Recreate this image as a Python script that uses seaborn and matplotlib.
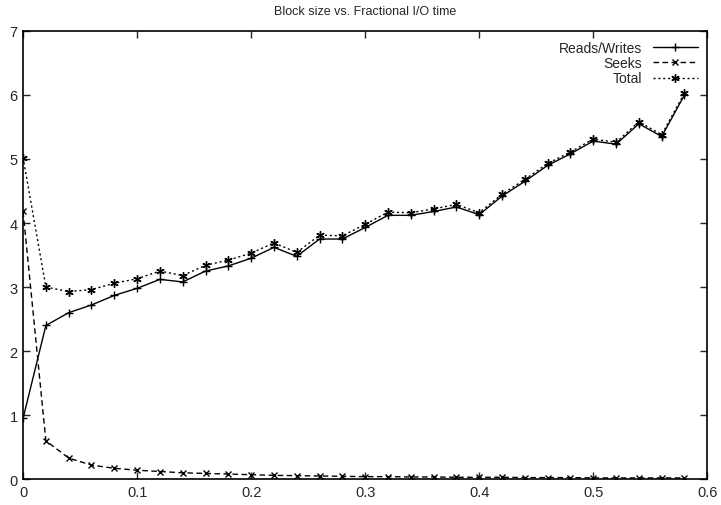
import matplotlib
matplotlib.use("Agg")
import matplotlib.pyplot as plt
import seaborn as sns
import pandas as pd

block_size = [0.00, 0.02, 0.04, 0.06, 0.08, 0.10, 0.12, 0.14, 0.16, 0.18,
              0.20, 0.22, 0.24, 0.26, 0.28, 0.30, 0.32, 0.34, 0.36, 0.38,
              0.40, 0.42, 0.44, 0.46, 0.48, 0.50, 0.52, 0.54, 0.56, 0.58]
reads_writes = [0.95, 2.40, 2.60, 2.72, 2.87, 2.98, 3.12, 3.08, 3.25, 3.33,
                3.45, 3.62, 3.48, 3.75, 3.75, 3.93, 4.12, 4.12, 4.18, 4.25,
                4.13, 4.42, 4.65, 4.90, 5.08, 5.28, 5.23, 5.55, 5.35, 6.00]
seeks = [4.18, 0.60, 0.33, 0.22, 0.17, 0.14, 0.12, 0.10, 0.09, 0.08,
         0.07, 0.06, 0.055, 0.05, 0.045, 0.04, 0.04, 0.035, 0.035, 0.03,
         0.03, 0.03, 0.025, 0.025, 0.025, 0.02, 0.02, 0.02, 0.02, 0.02]
total = [5.02, 3.00, 2.93, 2.96, 3.06, 3.13, 3.25, 3.18, 3.34, 3.42,
         3.53, 3.69, 3.54, 3.81, 3.80, 3.98, 4.17, 4.16, 4.22, 4.29,
         4.16, 4.45, 4.68, 4.93, 5.11, 5.31, 5.26, 5.58, 5.38, 6.03]

series_names = ["Reads/Writes", "Seeks", "Total"]
x_ticks = [0, 0.1, 0.2, 0.3, 0.4, 0.5, 0.6]
x_tick_labels = ["0", "0.1", "0.2", "0.3", "0.4", "0.5", "0.6"]
y_ticks = [0, 1, 2, 3, 4, 5, 6, 7]

df = pd.DataFrame({"x": block_size * 3,
                   "y": reads_writes + seeks + total,
                   "series": [series_names[0]] * len(block_size)
                   + [series_names[1]] * len(block_size)
                   + [series_names[2]] * len(block_size)})

sns.set_style("ticks")
plt.rcParams["font.family"] = ["Liberation Sans", "DejaVu Sans"]

fig = plt.figure(figsize=(7.21, 5.06), dpi=100)
ax = fig.add_axes([0.032, 0.051, 0.949, 0.886])

styles = {"Reads/Writes": ("-", "+", 6),
          "Seeks": ((0, (4, 2.5)), "x", 5),
          "Total": ((0, (1.5, 2)), (6, 2, 0), 6)}
for name in series_names:
    ls, mk, ms = styles[name]
    sub = df[df["series"] == name]
    sns.lineplot(data=sub, x="x", y="y", ax=ax, color="black", linewidth=1.0,
                 linestyle=ls, marker=mk, markersize=ms, markeredgewidth=1.0,
                 markeredgecolor="black", label=name)

ax.set_xlim(0, 0.6)
ax.set_ylim(0, 7)
ax.set_xticks(x_ticks)
ax.set_xticklabels(x_tick_labels)
ax.set_yticks(y_ticks)
ax.set_xlabel("")
ax.set_ylabel("")
ax.tick_params(direction="in", top=True, right=True, length=5, width=1,
               labelsize=10.5, pad=4)
for s in ax.spines.values():
    s.set_linewidth(1.2)
    s.set_color("black")
ax.set_title("Block size vs. Fractional I/O time", fontsize=9, pad=12)

leg = ax.legend(loc="upper right", frameon=False, markerfirst=False,
                handlelength=3.2, fontsize=10, borderaxespad=0.3,
                labelspacing=0.1, handletextpad=0.8)
leg._legend_box.align = "right"
for t in leg.get_texts():
    t.set_horizontalalignment("right")

fig.savefig("out.png", dpi=100)
